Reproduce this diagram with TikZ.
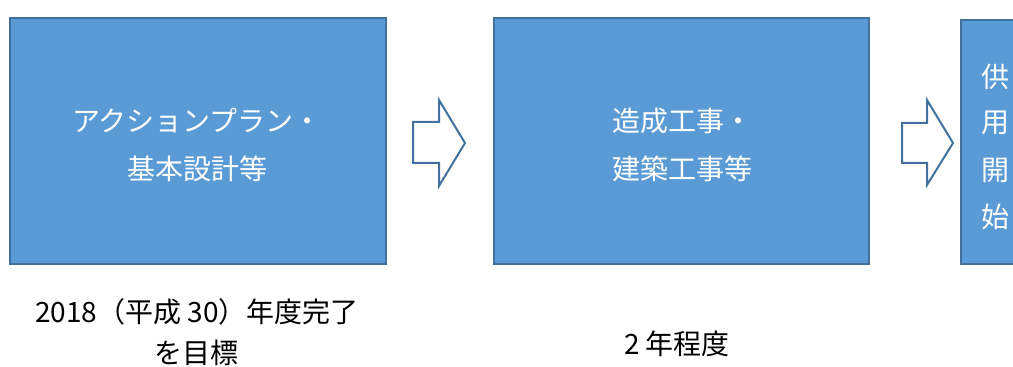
\documentclass[tikz,border=0pt]{standalone}
\usepackage{fontspec}
\newfontfamily\jp{Noto Sans CJK JP}
\definecolor{boxfill}{HTML}{5B9BD5}
\definecolor{boxline}{HTML}{41719C}
\begin{document}
\begin{tikzpicture}[x=0.75pt,y=-0.75pt,
  stagebox/.style={draw=boxline,line width=1.5pt,fill=boxfill,inner sep=0pt,anchor=north west},
  intext/.style={text=white,font=\jp\fontsize{21}{36}\selectfont,inner sep=0pt},
  outtext/.style={text=black,font=\jp\fontsize{21}{34.5}\selectfont,inner sep=0pt,align=center},
  blockarrow/.style={draw=boxline,line width=1.5pt,fill=white,line join=miter}]
\useasboundingbox (0,0) rectangle (1013,367);
\clip (0,0) rectangle (1013,367);
% boxes
\node[stagebox,minimum width=376*0.75pt,minimum height=246*0.75pt] (b1) at (9,17) {};
\node[stagebox,minimum width=375*0.75pt,minimum height=246*0.75pt] (b2) at (493,17) {};
\node[stagebox,minimum width=80*0.75pt,minimum height=244*0.75pt] (b3) at (960,19) {};
% box texts
\node[intext] (t1a) at (197,121) {アクションプラン・};
\node[intext] (t1b) at (197,169) {基本設計等};
\node[intext] (t2a) at (682,121) {造成工事・};
\node[intext] (t2b) at (682,169) {建築工事等};
\node[intext] (t3a) at (995,77) {供};
\node[intext] (t3b) at (995,123) {用};
\node[intext] (t3c) at (995,170) {開};
\node[intext] (t3d) at (995,217) {始};
% block arrows
\draw[blockarrow] (413,122) -- (439,122) -- (439,100) -- (465,143) -- (439,186) -- (439,163) -- (413,163) -- cycle;
\draw[blockarrow] (902,123) -- (927,123) -- (927,100) -- (953,143) -- (927,185) -- (927,163) -- (902,163) -- cycle;
% notes below
\node[outtext] (n1a) at (197,312) {2018（平成 30）年度完了};
\node[outtext] (n1b) at (196,353) {を目標};
\node[outtext] (n2) at (677,344) {2 年程度};
\end{tikzpicture}
\end{document}
